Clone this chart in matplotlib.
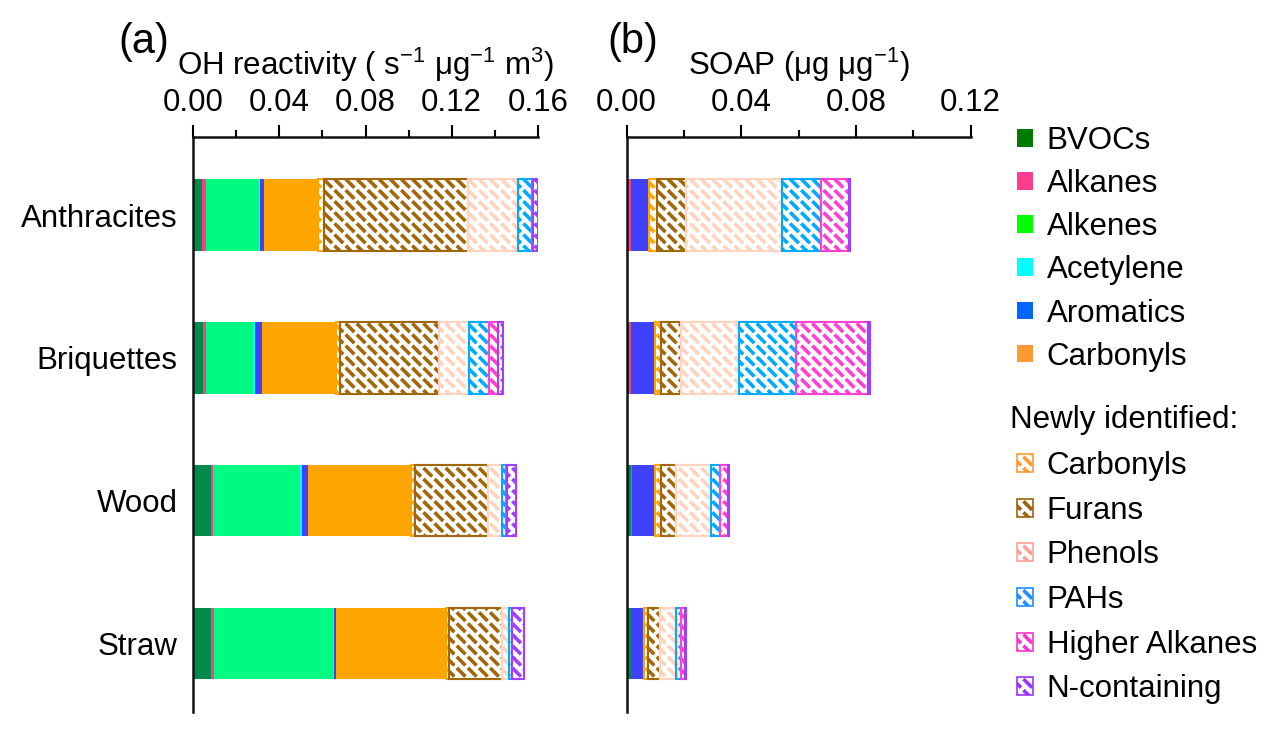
import numpy as np
import matplotlib
matplotlib.use('Agg')
import matplotlib.pyplot as plt
import matplotlib.hatch as mhatch
from matplotlib.patches import Patch

# ---------------- data ----------------
fuels = ['Anthracites', 'Briquettes', 'Wood', 'Straw']
species = ['BVOCs', 'Alkanes', 'Alkenes', 'Acetylene', 'Aromatics', 'Carbonyls',
           'Carbonyls', 'Furans', 'Phenols', 'PAHs', 'Higher Alkanes', 'N-containing']
newly = [False] * 6 + [True] * 6

# OH reactivity (s-1 ug-1 m3), one value per species in the order above
oh_anthracites = [0.0043, 0.0016, 0.0247, 0.0005, 0.0019, 0.0252, 0.0026, 0.0667, 0.0230, 0.0065, 0.0008, 0.0020]
oh_briquettes = [0.0048, 0.0011, 0.0219, 0.0008, 0.0035, 0.0341, 0.0019, 0.0461, 0.0136, 0.0093, 0.0045, 0.0023]
oh_wood = [0.0085, 0.0008, 0.0402, 0.0012, 0.0026, 0.0479, 0.0017, 0.0337, 0.0065, 0.0019, 0.0007, 0.0042]
oh_straw = [0.0085, 0.0013, 0.0551, 0.0003, 0.0013, 0.0509, 0.0011, 0.0247, 0.0033, 0.0013, 0.0003, 0.0054]

# SOAP (ug ug-1)
soap_anthracites = [0.0006, 0.0008, 0.0, 0.0, 0.0065, 0.0, 0.0026, 0.0101, 0.0337, 0.0134, 0.0099, 0.0004]
soap_briquettes = [0.0008, 0.0006, 0.0, 0.0, 0.0085, 0.0, 0.0020, 0.0070, 0.0203, 0.0198, 0.0253, 0.0006]
soap_wood = [0.0015, 0.0005, 0.0, 0.0, 0.0079, 0.0, 0.0020, 0.0053, 0.0122, 0.0031, 0.0029, 0.0004]
soap_straw = [0.0014, 0.0003, 0.0, 0.0, 0.0043, 0.0, 0.0015, 0.0041, 0.0056, 0.0017, 0.0014, 0.0003]

oh_ticks = [0.00, 0.04, 0.08, 0.12, 0.16]
soap_ticks = [0.00, 0.04, 0.08, 0.12]

bar_colors = ['#008B4A', '#FF3C8C', '#00FA82', '#00FFFF', '#4040FF', '#FFA500',
              '#FFA500', '#A0680A', '#FFD3BE', '#00AAFF', '#FF40D0', '#A040FF']
legend_colors = ['#007A00', '#FF3D8F', '#00FF00', '#00FFFF', '#0066FF', '#FF9933',
                 '#FF9933', '#9C6410', '#FF9E9E', '#1E90FF', '#FF33CC', '#9933FF']


# ---------------- short-dash hatch ('.') ----------------
class DashHatch(mhatch.HatchPatternBase):
    def __init__(self, hatch, density):
        self.n = 9 if '.' in hatch else 0
        self.num_vertices = 2 * self.n * self.n

    def set_vertices_and_codes(self, vertices, codes):
        n = self.n
        step = 1.0 / n
        d = 0.55 * step
        k = 0
        for i in range(n):
            for j in range(n):
                cx = (j + 0.5) * step
                cy = (i + 0.5) * step
                vertices[k] = (cx - d / 2, cy + d / 2)
                vertices[k + 1] = (cx + d / 2, cy - d / 2)
                codes[k] = 1
                codes[k + 1] = 2
                k += 2


mhatch._hatch_types = [mhatch.HorizontalHatch, mhatch.VerticalHatch,
                       mhatch.NorthEastHatch, mhatch.SouthEastHatch,
                       mhatch.SmallCircles, mhatch.LargeCircles,
                       DashHatch, mhatch.Stars]

plt.rcParams['font.family'] = ['Liberation Sans', 'DejaVu Sans']
plt.rcParams['mathtext.fontset'] = 'custom'
plt.rcParams['mathtext.rm'] = 'Liberation Sans'
plt.rcParams['mathtext.it'] = 'Liberation Sans:italic'
plt.rcParams['hatch.linewidth'] = 2.6

FS = 22.5

fig = plt.figure(figsize=(12.82, 7.33), dpi=100)
W, H = 1282, 733
ax1 = fig.add_axes([193 / W, (H - 712) / H, (538 - 193) / W, (712 - 137) / H])
ax2 = fig.add_axes([626.5 / W, (H - 712) / H, (970.7 - 626.5) / W, (712 - 137) / H])

ypos = np.arange(len(fuels))


def draw(ax, rows, xmax, ticks):
    data = np.array(rows)  # fuels x species
    left = np.zeros(len(fuels))
    for k in range(len(species)):
        vals = data[:, k]
        if newly[k]:
            ax.barh(ypos, vals, left=left, height=0.5, color='white',
                    edgecolor=bar_colors[k], linewidth=1.5, hatch='.')
        else:
            ax.barh(ypos, vals, left=left, height=0.5, color=bar_colors[k],
                    edgecolor='none', linewidth=0)
        left = left + vals
    ax.set_xlim(0, xmax)
    ax.set_ylim(3.48, -0.547)
    ax.xaxis.tick_top()
    ax.xaxis.set_label_position('top')
    ax.set_xticks(ticks)
    ax.set_xticklabels(['%.2f' % t for t in ticks])
    ax.set_xticks(np.arange(0.02, xmax, 0.04), minor=True)
    ax.tick_params(axis='x', which='major', direction='out', length=8.5, width=1.5,
                   labelsize=FS, pad=5.5)
    ax.tick_params(axis='x', which='minor', direction='out', length=5, width=1.5)
    for s in ['right', 'bottom']:
        ax.spines[s].set_visible(False)
    for s in ['top', 'left']:
        ax.spines[s].set_linewidth(1.8)
        ax.spines[s].set_color('#111111')


draw(ax1, [oh_anthracites, oh_briquettes, oh_wood, oh_straw], 0.16, oh_ticks)
draw(ax2, [soap_anthracites, soap_briquettes, soap_wood, soap_straw], 0.12, soap_ticks)

ax1.set_yticks(ypos)
ax1.set_yticklabels(fuels)
ax1.tick_params(axis='y', length=0, labelsize=FS, pad=11)
ax2.set_yticks([])

ax1.set_xlabel(r'OH reactivity ( s$^{-1}$ μg$^{-1}$ m$^{3}$)', fontsize=FS, labelpad=9)
ax2.set_xlabel(r'SOAP (μg μg$^{-1}$)', fontsize=FS, labelpad=9)

fig.text(118 / W, 1 - 42 / H, '(a)', fontsize=30, ha='left', va='center')
fig.text(607 / W, 1 - 42 / H, '(b)', fontsize=30, ha='left', va='center')

# legends
h1 = [Patch(facecolor=legend_colors[k], edgecolor='none', label=species[k]) for k in range(6)]
h2 = [Patch(facecolor='white', edgecolor=legend_colors[k], hatch='.', linewidth=1.2,
            label=species[k]) for k in range(6, 12)]
leg1 = fig.legend(handles=h1, loc='upper left', bbox_to_anchor=(1017 / W, 1 - 126 / H),
                  frameon=False, fontsize=FS, borderpad=0, borderaxespad=0,
                  handlelength=0.5, handleheight=0.5, handletextpad=0.45,
                  labelspacing=0.42)
fig.text(1010 / W, 1 - 420 / H, 'Newly identified:', fontsize=FS, ha='left', va='center')
leg2 = fig.legend(handles=h2, loc='upper left', bbox_to_anchor=(1017 / W, 1 - 451 / H),
                  frameon=False, fontsize=FS, borderpad=0, borderaxespad=0,
                  handlelength=0.5, handleheight=0.5, handletextpad=0.45,
                  labelspacing=0.47)

fig.savefig('out.png', dpi=100)
